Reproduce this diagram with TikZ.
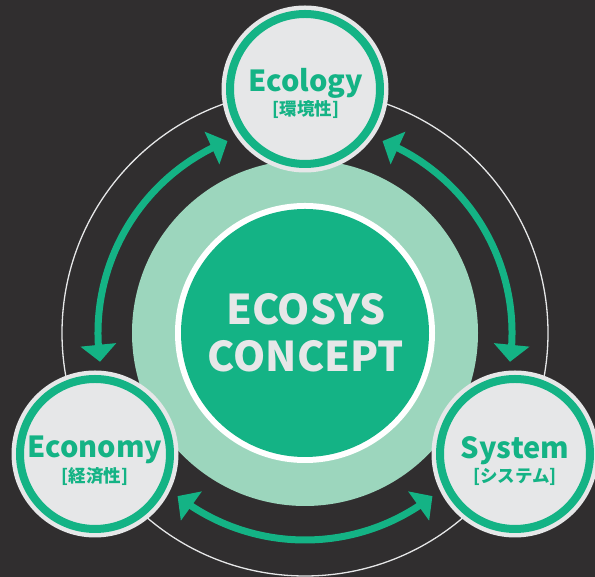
\documentclass[tikz,border=0pt]{standalone}
\usepackage{fontspec}
\setmainfont{Noto Sans CJK JP}
\usetikzlibrary{arrows.meta,bending}
\definecolor{bgdark}{HTML}{302E2F}
\definecolor{ecogreen}{HTML}{14B385}
\definecolor{palegreen}{HTML}{9CD6BD}
\definecolor{palegray}{HTML}{E6E7E8}
\tikzset{
  satdisc/.style={circle, fill=palegray, minimum size=167pt, inner sep=0pt},
  sattitle/.style={anchor=base, text=ecogreen, font=\fontsize{29}{29}\selectfont\bfseries, inner sep=0pt},
  satsub/.style={anchor=base, text=ecogreen, font=\fontsize{17.5}{17.5}\selectfont\bfseries, inner sep=0pt},
  centertext/.style={anchor=base, text=palegray, font=\fontsize{41}{41}\selectfont\bfseries, inner sep=0pt},
  arcarrow/.style={draw=ecogreen, line width=7pt, {Triangle[length=17pt,width=35pt]}-{Triangle[length=17pt,width=35pt]}},
}
\begin{document}
\begin{tikzpicture}[x=1pt,y=1pt]
\fill[bgdark] (0,0) rectangle (595,577);
\useasboundingbox (0,0) rectangle (595,577);
\coordinate (c) at (305,244);
% thin outer circle
\draw[palegray, line width=1.3pt] (c) circle (243);
% pale green disc
\fill[palegreen] (c) circle (173);
% central disc
\node[circle, fill=white, minimum size=260pt, inner sep=0pt] (core) at (c) {};
\fill[ecogreen] (c) circle (124);
\node[centertext] (t1) at (306,252) {ECOSYS};
\node[centertext] (t2) at (306,205) {CONCEPT};
% arrows
\draw[arcarrow] (c) ++(112:207) arc[start angle=112, end angle=188, radius=207];
\draw[arcarrow] (c) ++(232:207) arc[start angle=232, end angle=308, radius=207];
\draw[arcarrow] (c) ++(-8:207) arc[start angle=-8, end angle=68, radius=207];
% satellites
\foreach \n/\p in {ecol/{(305,488)}, econ/{(95,123)}, syst/{(515,123)}}{
  \node[satdisc] (\n) at \p {};
  \draw[ecogreen, line width=8pt] (\n.center) circle (75);
}
\node[sattitle] (ecolt) at (306,485) {Ecology};
\node[satsub] (ecols) at (306,461) {[環境性]};
\node[sattitle] (econt) at (95,119) {Economy};
\node[satsub] (econs) at (95,94) {[経済性]};
\node[sattitle] (systt) at (515,118) {System};
\node[satsub] (systs) at (515,94) {[システム]};
\end{tikzpicture}
\end{document}
